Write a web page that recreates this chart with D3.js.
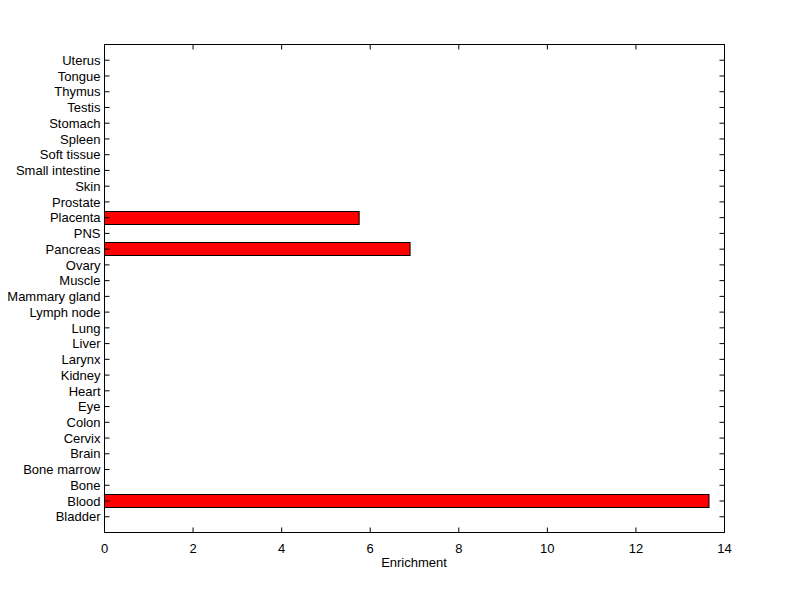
<!DOCTYPE html>
<html>
<head>
    <meta charset="utf-8">
    <title>Enrichment</title>
    <script src="https://cdn.jsdelivr.net/npm/d3@7"></script>
    <style>
        body { margin: 0; background: #fff; }
        text { font-family: "Liberation Sans", Arial, sans-serif; font-size: 13px; fill: #000; }
    </style>
</head>
<body>
<script>
    // bottom to top, as in the original axis
    var tissues = ["Bladder", "Blood", "Bone", "Bone marrow", "Brain", "Cervix", "Colon", "Eye",
        "Heart", "Kidney", "Larynx", "Liver", "Lung", "Lymph node", "Mammary gland", "Muscle",
        "Ovary", "Pancreas", "PNS", "Placenta", "Prostate", "Skin", "Small intestine",
        "Soft tissue", "Spleen", "Stomach", "Testis", "Thymus", "Tongue", "Uterus"];
    var enrichment = [0, 13.65, 0, 0, 0, 0, 0, 0, 0, 0, 0, 0, 0, 0, 0, 0,
        0, 6.9, 0, 5.75, 0, 0, 0, 0, 0, 0, 0, 0, 0, 0];
    var xTicks = [0, 2, 4, 6, 8, 10, 12, 14];

    var width = 800, height = 599,
        plotLeft = 104, plotRight = 724, plotTop = 44, plotBottom = 532,
        tick = 5;

    var svg = d3.select("body").append("svg")
        .attr("width", width)
        .attr("height", height);

    var x = d3.scaleLinear().domain([0, 14]).range([plotLeft, plotRight]);
    var y = d3.scaleLinear().domain([0, tissues.length + 1]).range([plotBottom, plotTop]);
    var barH = y(0) - y(0.8);

    var data = tissues.map(function (t, i) { return {name: t, pos: i + 1, value: enrichment[i]}; });

    // bars (only nonzero ones are visible)
    svg.append("g").selectAll("rect")
        .data(data.filter(function (d) { return d.value > 0; }))
        .enter()
        .append("rect")
        .attr("x", x(0) + 0.5)
        .attr("y", function (d) { return Math.round(y(d.pos) - barH / 2) + 0.5; })
        .attr("width", function (d) { return x(d.value) - x(0); })
        .attr("height", Math.round(barH))
        .attr("fill", "#ff0000")
        .attr("stroke", "#000");

    // frame
    svg.append("rect")
        .attr("x", plotLeft + 0.5).attr("y", plotTop + 0.5)
        .attr("width", plotRight - plotLeft).attr("height", plotBottom - plotTop)
        .attr("fill", "none").attr("stroke", "#000");

    // x axis bottom + top ticks
    var xb = svg.append("g").attr("transform", "translate(0," + (plotBottom + 0.5) + ")")
        .call(d3.axisBottom(x).tickValues(xTicks).tickSize(-tick).tickPadding(11).tickFormat(d3.format("d")));
    var xt = svg.append("g").attr("transform", "translate(0," + (plotTop + 0.5) + ")")
        .call(d3.axisTop(x).tickValues(xTicks).tickSize(-tick).tickFormat(""));

    // y axis left + right ticks
    var yTicks = data.map(function (d) { return d.pos; });
    var yl = svg.append("g").attr("transform", "translate(" + (plotLeft + 0.5) + ",0)")
        .call(d3.axisLeft(y).tickValues(yTicks).tickSize(-tick).tickPadding(4)
            .tickFormat(function (d) { return tissues[d - 1]; }));
    var yr = svg.append("g").attr("transform", "translate(" + (plotRight + 0.5) + ",0)")
        .call(d3.axisRight(y).tickValues(yTicks).tickSize(-tick).tickFormat(""));

    [xb, xt, yl, yr].forEach(function (g) {
        g.select(".domain").remove();
        g.selectAll(".tick line").attr("stroke", "#000");
        g.selectAll("text").attr("font-size", 13).attr("font-family", "Liberation Sans, Arial, sans-serif");
    });
    yl.selectAll("text").attr("dy", "0.36em");

    svg.append("text")
        .attr("x", x(7))
        .attr("y", 567)
        .attr("text-anchor", "middle")
        .text("Enrichment");
</script>
</body>
</html>
